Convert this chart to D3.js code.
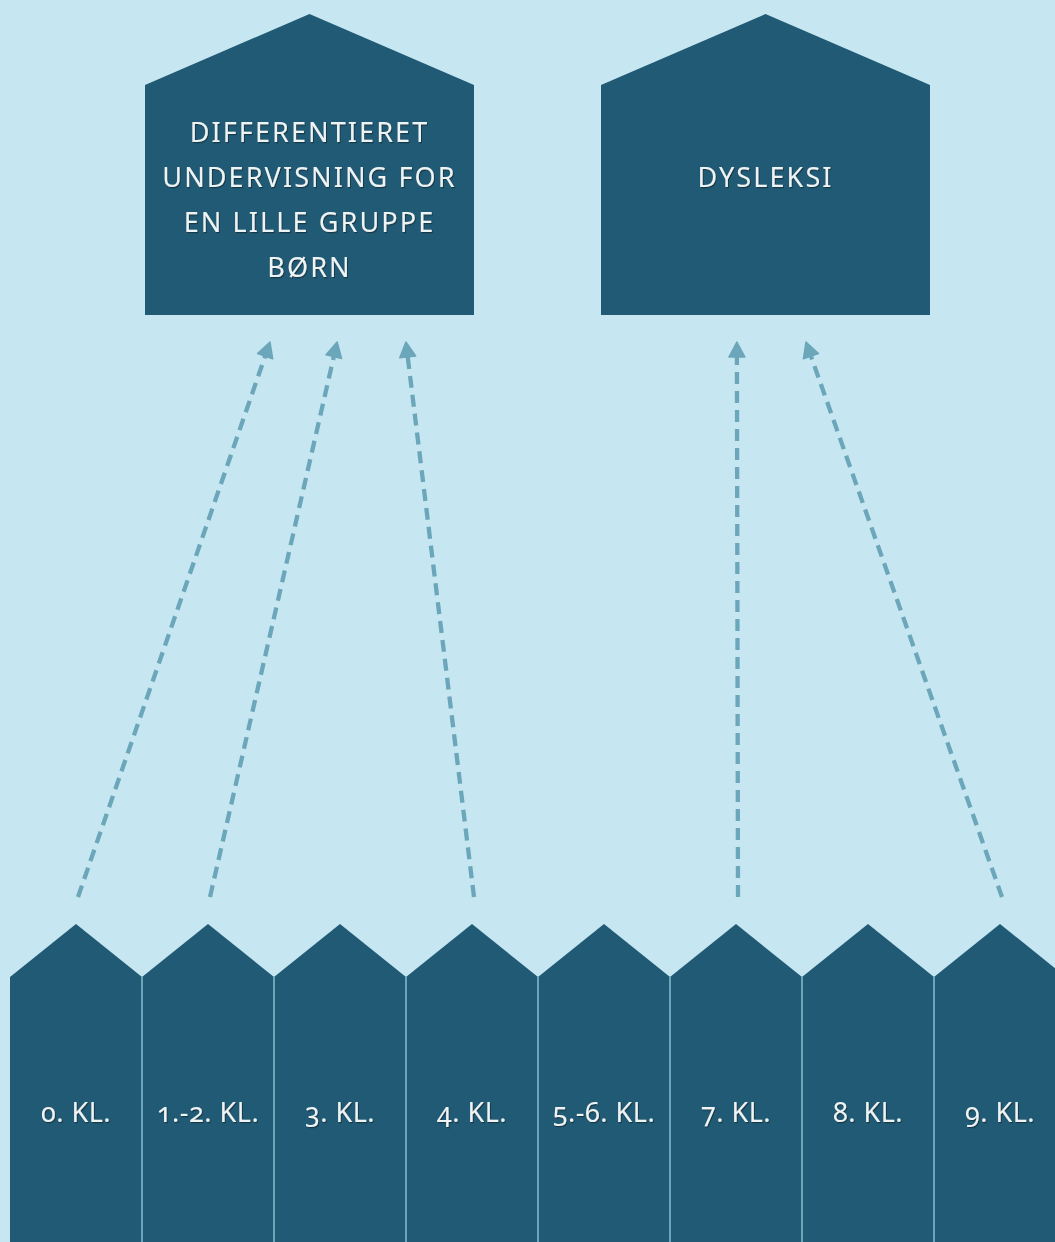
<!DOCTYPE html>
<html>
<head>
<meta charset="utf-8">
<script src="https://cdn.jsdelivr.net/npm/d3@7"></script>
<style>
  html, body { margin: 0; padding: 0; background: #c6e7f1; }
  svg { display: block; }
  text { font-family: "Noto Sans", "Open Sans", sans-serif; font-variant-numeric: oldstyle-nums; font-feature-settings: "onum" 1; }
</style>
</head>
<body>
<svg id="chart" width="1055" height="1242"></svg>
<script>
// ---- data ----
const grades = ["0. KL.", "1.-2. KL.", "3. KL.", "4. KL.", "5.-6. KL.", "7. KL.", "8. KL.", "9. KL."];
const targetNames = ["Differentieret undervisning", "Dysleksi"];
const targetLines = [
  ["DIFFERENTIERET", "UNDERVISNING FOR", "EN LILLE GRUPPE", "BØRN"],
  ["DYSLEKSI"]
];
const linkFrom = ["0. KL.", "1.-2. KL.", "4. KL.", "7. KL.", "9. KL."];
const linkTo   = ["Differentieret undervisning", "Differentieret undervisning", "Differentieret undervisning", "Dysleksi", "Dysleksi"];

// ---- layout ----
const W = 1055, H = 1242;
const BG = "#c6e7f1", HOUSE = "#215a75", ARROW = "#6ca6ba", DIVIDER = "#8fc4d7", TEXT = "#eef3f3";

const svg = d3.select("#chart");
svg.append("rect").attr("width", W).attr("height", H).attr("fill", BG);

const defs = svg.append("defs");
const f = defs.append("filter").attr("id", "shadow").attr("x", "-10%").attr("y", "-30%").attr("width", "120%").attr("height", "160%");
f.append("feDropShadow").attr("dx", 1).attr("dy", 1.2).attr("stdDeviation", 0.6)
  .attr("flood-color", "#0b2636").attr("flood-opacity", 0.7);

// grade houses
const gx = d3.scaleBand().domain(grades).range([10, 10 + 132 * grades.length]).paddingInner(0).paddingOuter(0);
const roofTop = 924, roofBase = 977;

svg.append("g").selectAll("path.grade")
  .data(grades).join("path")
  .attr("class", "grade")
  .attr("d", d => {
    const x0 = gx(d), x1 = x0 + gx.bandwidth(), xm = (x0 + x1) / 2;
    return `M${x0},${H + 2}L${x0},${roofBase}L${xm},${roofTop}L${x1},${roofBase}L${x1},${H + 2}Z`;
  })
  .attr("fill", HOUSE);

// dividers
svg.append("g").selectAll("line")
  .data(grades.slice(1)).join("line")
  .attr("x1", d => gx(d)).attr("x2", d => gx(d))
  .attr("y1", roofBase).attr("y2", H)
  .attr("stroke", DIVIDER).attr("stroke-width", 1.4);

svg.append("g").selectAll("text")
  .data(grades).join("text")
  .attr("x", d => gx(d) + gx.bandwidth() / 2)
  .attr("y", 1122)
  .attr("text-anchor", "middle")
  .attr("font-size", 27)
  .attr("letter-spacing", 0.5)
  .attr("fill", TEXT)
  .attr("filter", "url(#shadow)")
  .text(d => d);

// target houses
const tx = d3.scaleBand().domain(targetNames).range([145, 930]).paddingInner(127 / 456).paddingOuter(0);
const tPeak = 14, tShoulder = 85, tBottom = 315;

svg.append("g").selectAll("path.target")
  .data(targetNames).join("path")
  .attr("class", "target")
  .attr("d", d => {
    const x0 = tx(d), x1 = x0 + tx.bandwidth(), xm = (x0 + x1) / 2;
    return `M${x0},${tBottom}L${x0},${tShoulder}L${xm},${tPeak}L${x1},${tShoulder}L${x1},${tBottom}Z`;
  })
  .attr("fill", HOUSE);

const lineH = 45;
const firstBaseline = [142, 187];
targetNames.forEach((name, i) => {
  const lines = targetLines[i];
  const cx = tx(name) + tx.bandwidth() / 2;
  svg.append("g").selectAll("text")
    .data(lines).join("text")
    .attr("x", cx)
    .attr("y", (d, j) => firstBaseline[i] + j * lineH)
    .attr("text-anchor", "middle")
    .attr("font-size", 27)
    .attr("letter-spacing", 2.1)
    .attr("fill", TEXT)
    .attr("filter", "url(#shadow)")
    .text(d => d);
});

// arrows
const arrivalFrac = [0.38, 0.584, 0.793, 0.413, 0.623]; // horizontal slot inside target box
const startY = 897, tipY = 342;
const headLen = 15, headHalf = 8;
const gA = svg.append("g");
linkFrom.forEach((g, i) => {
  const x1 = gx(g) + gx.bandwidth() / 2 + 2;
  const x2 = tx(linkTo[i]) + tx.bandwidth() * arrivalFrac[i];
  const dx = x2 - x1, dy = tipY - startY, len = Math.hypot(dx, dy);
  const ux = dx / len, uy = dy / len, px = -uy, py = ux;
  const bx = x2 - ux * headLen, by = tipY - uy * headLen;
  gA.append("line")
    .attr("x1", x1).attr("y1", startY)
    .attr("x2", bx).attr("y2", by)
    .attr("stroke", ARROW).attr("stroke-width", 4.3)
    .attr("stroke-dasharray", "12,7");
  gA.append("path")
    .attr("d", `M${x2},${tipY}L${bx + px * headHalf},${by + py * headHalf}L${bx - px * headHalf},${by - py * headHalf}Z`)
    .attr("fill", ARROW)
    .attr("stroke", ARROW).attr("stroke-width", 1.5).attr("stroke-linejoin", "round");
});
</script>
</body>
</html>
